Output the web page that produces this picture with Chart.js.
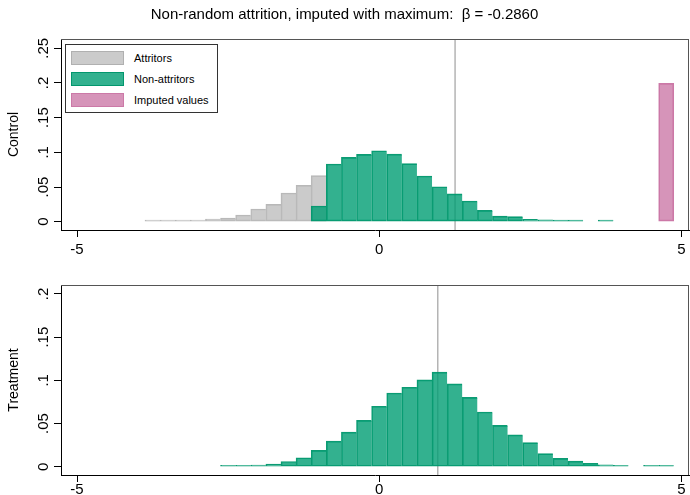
<!DOCTYPE html>
<html>
<head>
<meta charset="utf-8">
<script src="https://cdn.jsdelivr.net/npm/chart.js@4/dist/chart.umd.min.js"></script>
<style>
html,body{margin:0;padding:0;background:#fff;}
body{width:690px;height:495px;position:relative;overflow:hidden;font-family:"Liberation Sans",Arial,sans-serif;}
#cTop{position:absolute;left:0;top:0;}
#cBot{position:absolute;left:0;top:262px;}
#legend{position:absolute;left:65px;top:44px;width:151px;height:67px;border:1px solid #333;background:#fff;z-index:2;}
.sw{position:absolute;left:5px;width:53px;height:14px;box-sizing:border-box;border:1px solid;}
.lt{position:absolute;left:68px;height:14px;line-height:14px;font-size:11px;color:#000;white-space:nowrap;}
</style>
</head>
<body>
<canvas id="cTop" width="690" height="262"></canvas>
<canvas id="cBot" width="690" height="233"></canvas>
<div id="legend"></div>
<script>
// ---------- data ----------
const titleText = "Non-random attrition, imputed with maximum:  \u03B2 = -0.2860";
const panelLabels = ["Control", "Treatment"];
const legendLabels = ["Attritors", "Non-attritors", "Imputed values"];

const xTicks = [-5, 0, 5];
const xTickLabels = ["-5", "0", "5"];
const yTicksTop = [0, 0.05, 0.10, 0.15, 0.20, 0.25];
const yTickLabelsTop = ["0", ".05", ".1", ".15", ".2", ".25"];
const yTicksBot = [0, 0.05, 0.10, 0.15, 0.20];
const yTickLabelsBot = ["0", ".05", ".1", ".15", ".2"];

// Control group: attritors
const attrBins = [-3.75, -3.5, -3.25, -3.0, -2.75, -2.5, -2.25, -2.0, -1.75, -1.5, -1.25, -1.0];
const attritorsCtrl = [0.0010, 0.0010, 0.0024, 0.0024, 0.0038, 0.0053, 0.0096, 0.0183, 0.0250, 0.0413, 0.0524, 0.0663];

// Control group: non-attritors
const nonAttrBins = [-1.0, -0.75, -0.5, -0.25, 0.0, 0.25, 0.5, 0.75, 1.0, 1.25, 1.5, 1.75, 2.0, 2.25, 2.5, 2.75, 3.0, 3.25, 3.75];
const nonAttritorsCtrl = [0.0226, 0.0832, 0.0928, 0.0971, 0.1023, 0.0975, 0.0837, 0.0659, 0.0503, 0.0400, 0.0298, 0.0163, 0.0080, 0.0074, 0.0035, 0.0026, 0.0011, 0.0010, 0.0010];

// Control group: imputed values
const imputedBins = [4.75];
const imputedCtrl = [0.1995];

// Treatment group
const treatBins = [-2.5, -2.25, -2.0, -1.75, -1.5, -1.25, -1.0, -0.75, -0.5, -0.25, 0.0, 0.25, 0.5, 0.75, 1.0, 1.25, 1.5, 1.75, 2.0, 2.25, 2.5, 2.75, 3.0, 3.25, 3.5, 3.75, 4.0, 4.5, 4.75];
const treatment = [0.0006, 0.0012, 0.0018, 0.0030, 0.0060, 0.0104, 0.0190, 0.0297, 0.0400, 0.0537, 0.0700, 0.0853, 0.0920, 0.1005, 0.1095, 0.0960, 0.0803, 0.0633, 0.0478, 0.0368, 0.0278, 0.0152, 0.0096, 0.0065, 0.0040, 0.0021, 0.0005, 0.0005, 0.0005];

// group means (vertical reference lines)
const meanControl = 1.256;
const meanTreatment = 0.970;

// ---------- styling ----------
const FONT = "'Liberation Sans', Arial, sans-serif";
const xMin = -5.265, xMax = 5.127;
const yTopMin = -0.012, yTopMax = 0.2634;
const yBotMin = -0.0096, yBotMax = 0.2104;

const GRAY_FILL = 'rgba(190,190,190,0.8)', GRAY_LINE = 'rgba(172,172,172,0.85)';
const GREEN_FILL = 'rgba(0,158,115,0.8)', GREEN_LINE = 'rgba(0,150,108,0.95)';
const PINK_FILL = 'rgba(204,121,167,0.8)', PINK_LINE = 'rgba(204,121,167,1)';

const toPts = (bins, vals) => bins.map((b, i) => ({x: b, y: vals[i]}));

const frame = {
  id: 'frame',
  afterDatasetsDraw(chart) {
    const a = chart.chartArea, ctx = chart.ctx;
    ctx.save();
    ctx.strokeStyle = '#555';
    ctx.lineWidth = 1;
    ctx.beginPath();
    ctx.moveTo(a.left, Math.round(a.top) + 0.5);
    ctx.lineTo(a.right, Math.round(a.top) + 0.5);
    ctx.moveTo(Math.round(a.right) - 0.5, a.top);
    ctx.lineTo(Math.round(a.right) - 0.5, a.bottom);
    ctx.stroke();
    ctx.restore();
  }
};

function barDs(label, pts, fill, line, order, bw) {
  return {
    type: 'bar', label, data: pts,
    backgroundColor: fill, borderColor: line,
    borderWidth: bw, borderSkipped: false,
    grouped: false, barPercentage: 1, categoryPercentage: 1,
    minBarLength: 1.5, order
  };
}

function options(cfg) {
  return {
    responsive: false,
    animation: false,
    events: [],
    layout: {padding: {left: 0, right: 1, top: cfg.padTop, bottom: 0}},
    plugins: {
      legend: {display: false},
      tooltip: {enabled: false},
      title: cfg.title ? {
        display: true, text: cfg.title, color: '#000',
        font: {family: FONT, size: 15, weight: 'normal'},
        padding: {top: 6, bottom: 15}
      } : {display: false}
    },
    scales: {
      x: {
        type: 'linear', min: xMin, max: xMax, offset: false,
        afterBuildTicks: s => { s.ticks = xTicks.map(v => ({value: v})); },
        afterFit: s => { s.height = cfg.xHeight; },
        ticks: {
          autoSkip: false, minRotation: 0, maxRotation: 0,
          padding: cfg.xPad, color: '#000',
          font: {family: FONT, size: 15},
          callback: (v, i) => xTickLabels[i]
        },
        grid: {display: true, drawOnChartArea: false, drawTicks: true, tickLength: 7, color: '#000', offset: false},
        border: {display: true, color: '#000', width: 1}
      },
      y: {
        type: 'linear', min: cfg.yMin, max: cfg.yMax,
        afterBuildTicks: s => { s.ticks = cfg.yTicks.map(v => ({value: v})); },
        afterFit: s => { s.width = 61; },
        ticks: {
          autoSkip: false, minRotation: 90, maxRotation: 90,
          crossAlign: 'center', padding: 0, color: '#000',
          font: {family: FONT, size: 15},
          callback: (v, i) => cfg.yLabels[i]
        },
        title: {
          display: true, text: cfg.yTitle, color: '#000',
          font: {family: FONT, size: 14},
          padding: {top: 6, bottom: 0}
        },
        grid: {display: true, drawOnChartArea: false, drawTicks: true, tickLength: 7, color: '#000'},
        border: {display: true, color: '#000', width: 1}
      }
    }
  };
}

new Chart(document.getElementById('cTop'), {
  type: 'bar',
  data: {
    datasets: [
      {type: 'line', label: 'mean', data: [{x: meanControl, y: yTopMin}, {x: meanControl, y: yTopMax}],
       borderColor: '#b4b4b4', borderWidth: 1.5, pointRadius: 0, order: 3},
      barDs(legendLabels[0], toPts(attrBins, attritorsCtrl), GRAY_FILL, GRAY_LINE, 2, {left: 1, right: 0, top: 1, bottom: 1}),
      barDs(legendLabels[1], toPts(nonAttrBins, nonAttritorsCtrl), GREEN_FILL, GREEN_LINE, 1, {left: 1, right: 0, top: 1, bottom: 1}),
      barDs(legendLabels[2], toPts(imputedBins, imputedCtrl), PINK_FILL, PINK_LINE, 0, 1)
    ]
  },
  options: options({title: titleText, padTop: 0, xHeight: 32, xPad: 4,
    yMin: yTopMin, yMax: yTopMax, yTicks: yTicksTop, yLabels: yTickLabelsTop, yTitle: panelLabels[0]}),
  plugins: [frame]
});

new Chart(document.getElementById('cBot'), {
  type: 'bar',
  data: {
    datasets: [
      {type: 'line', label: 'mean', data: [{x: meanTreatment, y: yBotMin}, {x: meanTreatment, y: yBotMax}],
       borderColor: '#a8a8a8', borderWidth: 1.3, pointRadius: 0, order: 3},
      barDs(legendLabels[1], toPts(treatBins, treatment), GREEN_FILL, GREEN_LINE, 1, {left: 1, right: 0, top: 1, bottom: 1})
    ]
  },
  options: options({title: null, padTop: 23, xHeight: 20, xPad: -1,
    yMin: yBotMin, yMax: yBotMax, yTicks: yTicksBot, yLabels: yTickLabelsBot, yTitle: panelLabels[1]}),
  plugins: [frame]
});

// legend (HTML overlay)
const legendColors = [[GRAY_FILL, GRAY_LINE], [GREEN_FILL, GREEN_LINE], [PINK_FILL, PINK_LINE]];
const legendTops = [6, 27, 48];
const lg = document.getElementById('legend');
legendLabels.forEach((t, i) => {
  const s = document.createElement('div');
  s.className = 'sw';
  s.style.top = legendTops[i] + 'px';
  s.style.background = legendColors[i][0];
  s.style.borderColor = legendColors[i][1];
  lg.appendChild(s);
  const l = document.createElement('div');
  l.className = 'lt';
  l.style.top = legendTops[i] + 'px';
  l.textContent = t;
  lg.appendChild(l);
});
</script>
</body>
</html>
